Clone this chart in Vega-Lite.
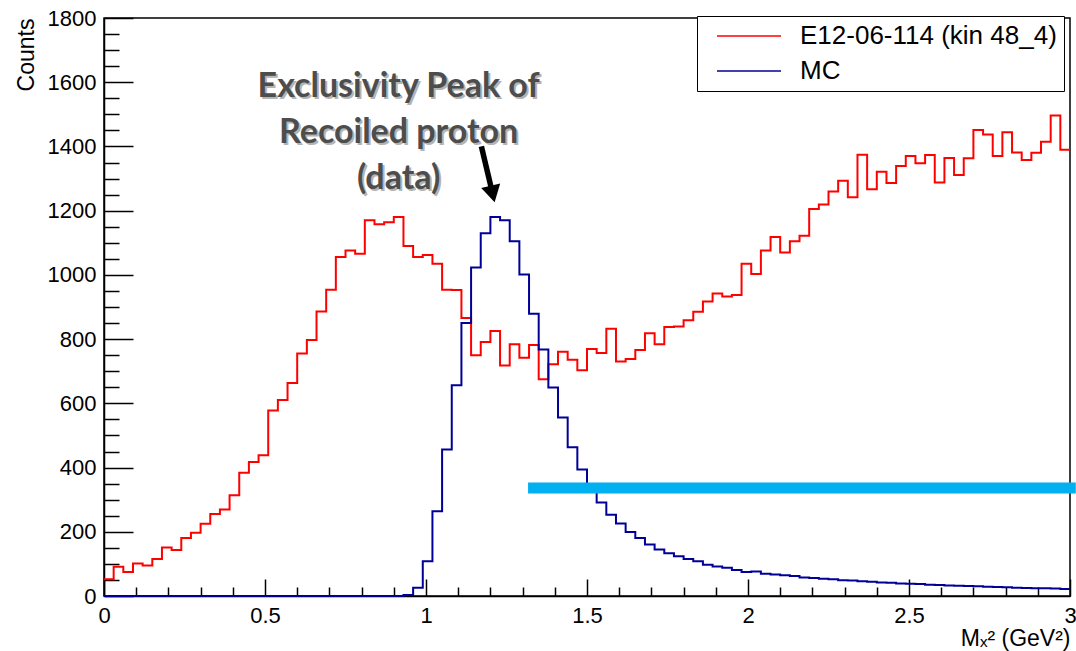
{
  "$schema": "https://vega.github.io/schema/vega-lite/v6.json",
  "width": 966,
  "height": 578,
  "autosize": {"type": "none"},
  "padding": {"left": 104, "top": 18, "right": 6, "bottom": 55},
  "background": "white",
  "config": {
    "view": {"stroke": "black", "strokeWidth": 1.5},
    "font": "Liberation Sans"
  },
  "resolve": {"axis": {"x": "independent", "y": "independent"}},
  "datasets": {
    "hist": [
      {"x":0.00,"d":52,"m":0},{"x":0.03,"d":91,"m":0},{"x":0.06,"d":75,"m":0},{"x":0.09,"d":101,"m":0},{"x":0.12,"d":95,"m":0},
      {"x":0.15,"d":115,"m":0},{"x":0.18,"d":151,"m":0},{"x":0.21,"d":143,"m":0},{"x":0.24,"d":181,"m":0},{"x":0.27,"d":197,"m":0},
      {"x":0.30,"d":225,"m":0},{"x":0.33,"d":255,"m":0},{"x":0.36,"d":269,"m":0},{"x":0.39,"d":314,"m":0},{"x":0.42,"d":384,"m":0},
      {"x":0.45,"d":417,"m":0},{"x":0.48,"d":438,"m":0},{"x":0.51,"d":578,"m":0},{"x":0.54,"d":610,"m":0},{"x":0.57,"d":663,"m":0},
      {"x":0.60,"d":755,"m":0},{"x":0.63,"d":797,"m":0},{"x":0.66,"d":886,"m":0},{"x":0.69,"d":954,"m":0},{"x":0.72,"d":1056,"m":0},
      {"x":0.75,"d":1076,"m":0},{"x":0.78,"d":1066,"m":0},{"x":0.81,"d":1170,"m":0},{"x":0.84,"d":1158,"m":0},{"x":0.87,"d":1164,"m":0},
      {"x":0.90,"d":1180,"m":0},{"x":0.93,"d":1090,"m":3},{"x":0.96,"d":1056,"m":26},{"x":0.99,"d":1062,"m":108},{"x":1.02,"d":1035,"m":264},
      {"x":1.05,"d":954,"m":456},{"x":1.08,"d":953,"m":656},{"x":1.11,"d":866,"m":850},{"x":1.14,"d":750,"m":1023},{"x":1.17,"d":791,"m":1130},
      {"x":1.20,"d":825,"m":1180},{"x":1.23,"d":718,"m":1170},{"x":1.26,"d":784,"m":1105},{"x":1.29,"d":742,"m":1001},{"x":1.32,"d":782,"m":879},
      {"x":1.35,"d":675,"m":768},{"x":1.38,"d":722,"m":649},{"x":1.41,"d":761,"m":556},{"x":1.44,"d":736,"m":463},{"x":1.47,"d":703,"m":394},
      {"x":1.50,"d":769,"m":340},{"x":1.53,"d":757,"m":291},{"x":1.56,"d":832,"m":253},{"x":1.59,"d":730,"m":226},{"x":1.62,"d":738,"m":199},
      {"x":1.65,"d":766,"m":181},{"x":1.68,"d":818,"m":160},{"x":1.71,"d":784,"m":145},{"x":1.74,"d":838,"m":133},{"x":1.77,"d":839,"m":124},
      {"x":1.80,"d":859,"m":115},{"x":1.83,"d":885,"m":108},{"x":1.86,"d":917,"m":97},{"x":1.89,"d":942,"m":92},{"x":1.92,"d":933,"m":88},
      {"x":1.95,"d":937,"m":81},{"x":1.98,"d":1035,"m":75},{"x":2.01,"d":1003,"m":76},{"x":2.04,"d":1076,"m":69},{"x":2.07,"d":1118,"m":67},
      {"x":2.10,"d":1070,"m":65},{"x":2.13,"d":1105,"m":62},{"x":2.16,"d":1122,"m":58},{"x":2.19,"d":1205,"m":56},{"x":2.22,"d":1219,"m":54},
      {"x":2.25,"d":1260,"m":52},{"x":2.28,"d":1293,"m":49},{"x":2.31,"d":1242,"m":48},{"x":2.34,"d":1374,"m":46},{"x":2.37,"d":1267,"m":44},
      {"x":2.40,"d":1321,"m":42},{"x":2.43,"d":1286,"m":41},{"x":2.46,"d":1339,"m":39},{"x":2.49,"d":1370,"m":38},{"x":2.52,"d":1348,"m":37},
      {"x":2.55,"d":1373,"m":35},{"x":2.58,"d":1288,"m":34},{"x":2.61,"d":1364,"m":33},{"x":2.64,"d":1311,"m":32},{"x":2.67,"d":1363,"m":31},
      {"x":2.70,"d":1451,"m":30},{"x":2.73,"d":1437,"m":29},{"x":2.76,"d":1370,"m":28},{"x":2.79,"d":1444,"m":27},{"x":2.82,"d":1381,"m":26},
      {"x":2.85,"d":1358,"m":25},{"x":2.88,"d":1380,"m":24},{"x":2.91,"d":1415,"m":24},{"x":2.94,"d":1496,"m":23},{"x":2.97,"d":1390,"m":22},
      {"x":3.00,"d":1390,"m":22}
    ],
    "note": [{"x": 0.915, "y": 1555, "text": "Exclusivity Peak of\nRecoiled proton\n(data)"}],
    "arrow": [{"x": 1.172, "y": 1400, "x2": 1.207, "y2": 1252}],
    "tip": [{"x": 1.207, "y": 1252}],
    "band": [{"x": 1.317, "x2": 3.018, "y": 336}]
  },
  "layer": [
    {
      "data": {"name": "hist"},
      "transform": [{"fold": ["d", "m"], "as": ["series", "count"]}],
      "mark": {"type": "line", "interpolate": "step-after", "strokeWidth": 2, "clip": false},
      "encoding": {
        "x": {
          "field": "x", "type": "quantitative",
          "scale": {"domain": [0, 3], "nice": false, "zero": false},
          "axis": {
            "orient": "bottom",
            "values": [0, 0.5, 1, 1.5, 2, 2.5, 3],
            "format": "~g",
            "labelFlush": false,
            "labelOverlap": false,
            "tickSize": -17,
            "tickColor": "black", "tickWidth": 1.5,
            "domainColor": "black", "domainWidth": 1.5,
            "grid": false,
            "labelFont": "Liberation Sans", "labelFontSize": 22, "labelColor": "black",
            "labelPadding": 26,
            "title": "Mₓ² (GeV²)",
            "titleFont": "Liberation Sans", "titleFontSize": 23, "titleFontWeight": "normal", "titleColor": "black",
            "titleAnchor": "end", "titleAlign": "right", "titleBaseline": "alphabetic",
            "titleX": 966, "titleY": 49
          }
        },
        "y": {
          "field": "count", "type": "quantitative",
          "scale": {"domain": [0, 1800], "nice": false},
          "axis": {
            "orient": "left",
            "values": [0, 200, 400, 600, 800, 1000, 1200, 1400, 1600, 1800],
            "format": "d",
            "labelFlush": false,
            "labelOverlap": false,
            "tickSize": -29,
            "tickColor": "black", "tickWidth": 1.5,
            "domainColor": "black", "domainWidth": 1.5,
            "grid": false,
            "labelFont": "Liberation Sans", "labelFontSize": 22, "labelColor": "black",
            "labelPadding": 37,
            "title": "Counts",
            "titleFont": "Liberation Sans", "titleFontSize": 23, "titleFontWeight": "normal", "titleColor": "black",
            "titleAngle": 270, "titleAnchor": "end", "titleAlign": "right", "titleBaseline": "alphabetic",
            "titleX": -71, "titleY": 0
          }
        },
        "color": {
          "field": "series", "type": "nominal",
          "scale": {"domain": ["d", "m"], "range": ["#ff0000", "#000099"]},
          "legend": {
            "title": null,
            "orient": "none", "legendX": 593, "legendY": -2,
            "direction": "vertical",
            "symbolType": "M0,0H8", "symbolSize": 256, "symbolStrokeWidth": 1.5,
            "labelFont": "Liberation Sans", "labelFontSize": 26, "labelColor": "black",
            "labelLimit": 500,
            "labelOffset": 70, "padding": 7, "rowPadding": 9,
            "strokeColor": "black", "fillColor": "white",
            "labelExpr": "datum.value == 'd' ? 'E12-06-114 (kin 48_4)' : 'MC'"
          }
        }
      }
    },
    {
      "data": {"name": "band"},
      "mark": {"type": "rule", "color": "#00b0f0", "strokeWidth": 11, "strokeCap": "butt", "clip": false},
      "encoding": {
        "x": {
          "field": "x", "type": "quantitative",
          "axis": {
            "orient": "bottom",
            "values": [0.1,0.2,0.3,0.4,0.6,0.7,0.8,0.9,1.1,1.2,1.3,1.4,1.6,1.7,1.8,1.9,2.1,2.2,2.3,2.4,2.6,2.7,2.8,2.9],
            "labels": false, "domain": false, "grid": false, "title": null,
            "tickSize": -9, "tickColor": "black", "tickWidth": 1.5
          }
        },
        "x2": {"field": "x2"},
        "y": {
          "field": "y", "type": "quantitative",
          "axis": {
            "orient": "left",
            "values": [50,100,150,250,300,350,450,500,550,650,700,750,850,900,950,1050,1100,1150,1250,1300,1350,1450,1500,1550,1650,1700,1750],
            "labels": false, "domain": false, "grid": false, "title": null,
            "tickSize": -15, "tickColor": "black", "tickWidth": 1.5
          }
        }
      }
    },
    {
      "data": {"name": "note"},
      "mark": {"type": "text", "font": "Lato", "fontWeight": "bold", "fontSize": 34, "align": "center", "baseline": "alphabetic", "lineBreak": "\n", "lineHeight": 46, "color": "#b4b4b4", "dx": 2, "dy": 2},
      "encoding": {
        "x": {"field": "x", "type": "quantitative", "axis": null},
        "y": {"field": "y", "type": "quantitative", "axis": null},
        "text": {"field": "text"}
      }
    },
    {
      "data": {"name": "note"},
      "mark": {"type": "text", "font": "Lato", "fontWeight": "bold", "fontSize": 34, "align": "center", "baseline": "alphabetic", "lineBreak": "\n", "lineHeight": 46, "color": "#4d4d4d"},
      "encoding": {
        "x": {"field": "x", "type": "quantitative", "axis": null},
        "y": {"field": "y", "type": "quantitative", "axis": null},
        "text": {"field": "text"}
      }
    },
    {
      "data": {"name": "arrow"},
      "mark": {"type": "rule", "color": "black", "strokeWidth": 5.5},
      "encoding": {
        "x": {"field": "x", "type": "quantitative", "axis": null},
        "y": {"field": "y", "type": "quantitative", "axis": null},
        "x2": {"field": "x2"},
        "y2": {"field": "y2"}
      }
    },
    {
      "data": {"name": "tip"},
      "mark": {"type": "point", "shape": "triangle-down", "filled": true, "size": 380, "angle": 346.6, "color": "black", "opacity": 1},
      "encoding": {
        "x": {"field": "x", "type": "quantitative", "axis": null},
        "y": {"field": "y", "type": "quantitative", "axis": null}
      }
    }
  ]
}
